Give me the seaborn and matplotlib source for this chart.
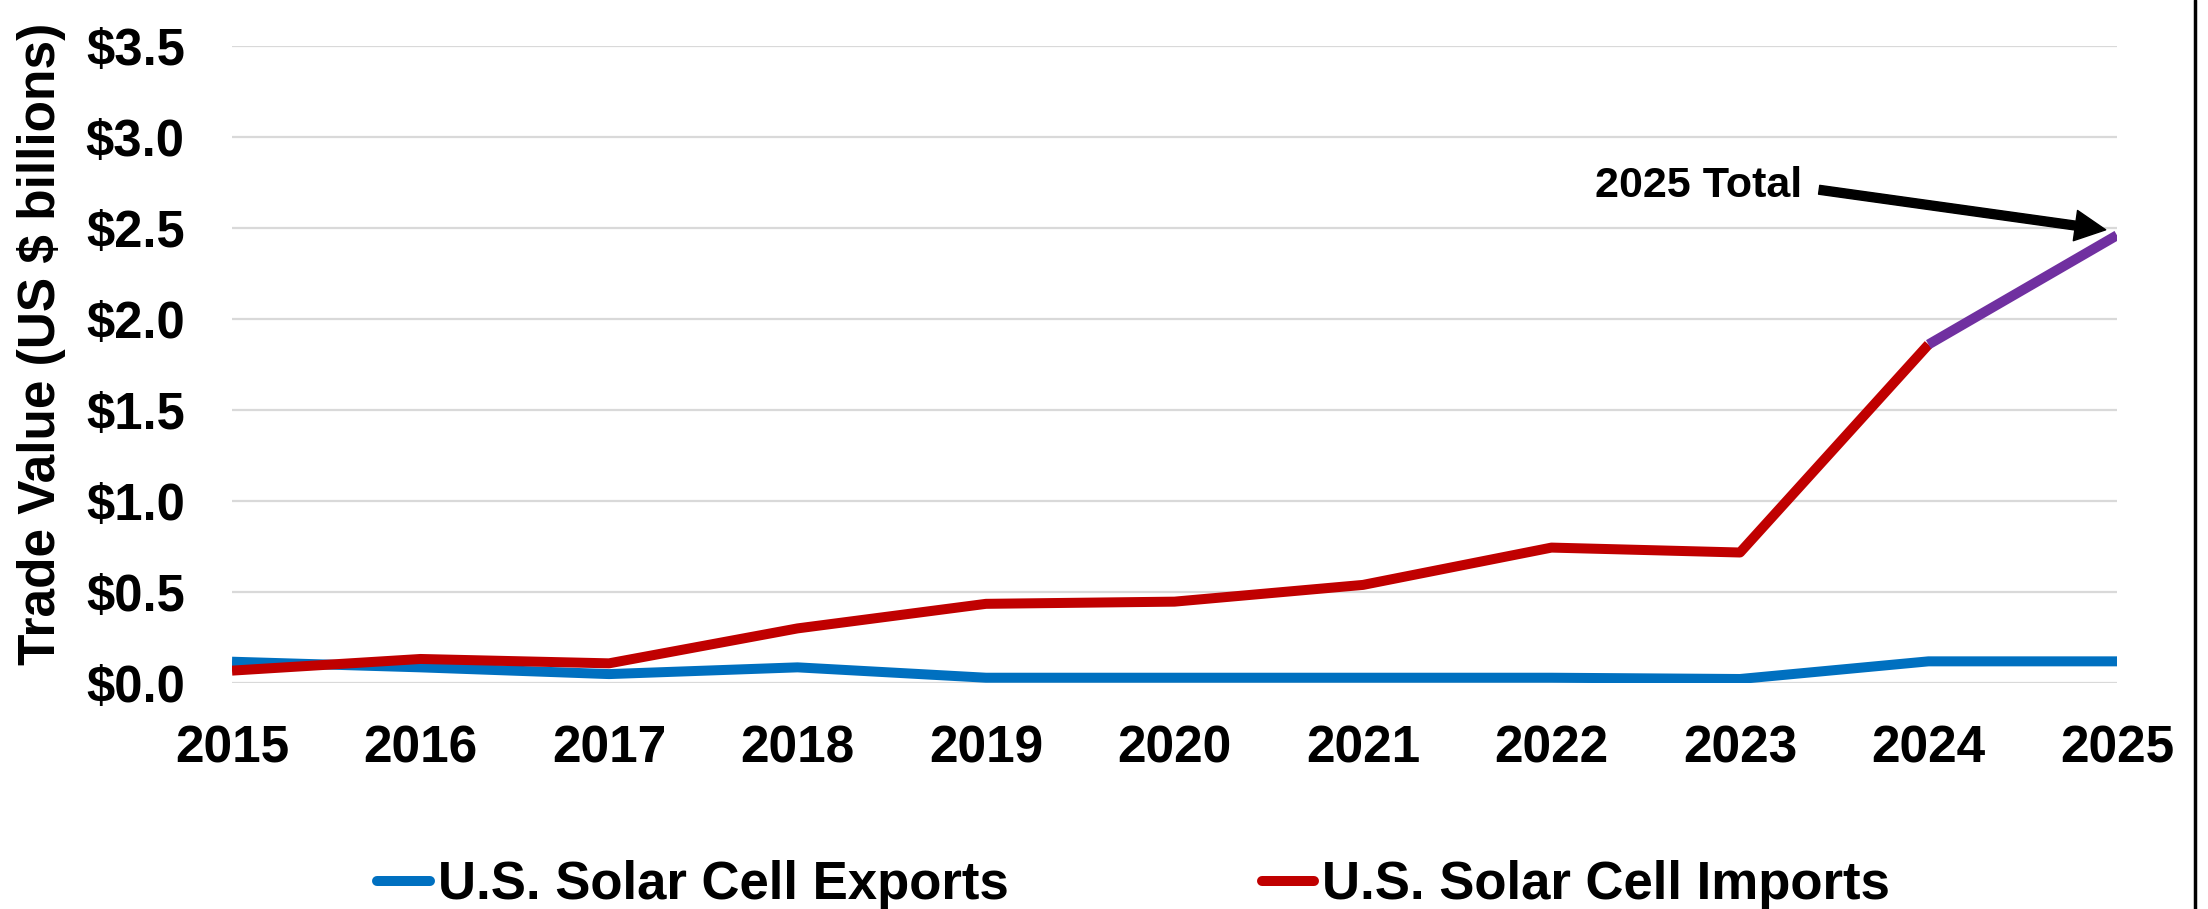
import numpy as np
import pandas as pd
import matplotlib
matplotlib.use("Agg")
import matplotlib.pyplot as plt
import seaborn as sns
from matplotlib.lines import Line2D

# ---- data ----
years = [2015, 2016, 2017, 2018, 2019, 2020, 2021, 2022, 2023, 2024, 2025]
exports = [0.117, 0.086, 0.049, 0.086, 0.029, 0.029, 0.029, 0.029, 0.022, 0.119, 0.119]
imports = [0.068, 0.132, 0.108, 0.300, 0.435, 0.447, 0.539, 0.744, 0.717, 1.860, 2.460]
series_names = ["U.S. Solar Cell Exports", "U.S. Solar Cell Imports"]
yticks = [0.0, 0.5, 1.0, 1.5, 2.0, 2.5, 3.0, 3.5]
ytick_labels = [f"${v:.1f}" for v in yticks]
annotation_text = "2025 Total"
ylabel_text = "Trade Value (US $ billions)"

colors = {"U.S. Solar Cell Exports": "#0070C0", "U.S. Solar Cell Imports": "#C00000"}
purple = "#7030A0"

sns.set_theme(style="white")
plt.rcParams["font.family"] = ["Liberation Sans", "DejaVu Sans"]
plt.rcParams["font.weight"] = "bold"
plt.rcParams["text.color"] = "black"
plt.rcParams["axes.labelcolor"] = "black"
plt.rcParams["xtick.color"] = "black"
plt.rcParams["ytick.color"] = "black"

# long-form frame: exports full, imports through 2024 (2025 segment highlighted in purple)
df = pd.concat([
    pd.DataFrame({"Year": years, "Value": exports, "Series": series_names[0]}),
    pd.DataFrame({"Year": years[:-1], "Value": imports[:-1], "Series": series_names[1]}),
])
df_last = pd.DataFrame({"Year": years[-2:], "Value": imports[-2:]})

fig = plt.figure(figsize=(22.08, 9.09), dpi=100)
ax = fig.add_axes([232 / 2208, 1 - 683 / 909, (2117 - 232) / 2208, (683 - 46) / 909])

lw = 7.2
sns.lineplot(data=df, x="Year", y="Value", hue="Series", palette=colors,
             linewidth=lw, ax=ax, legend=False, zorder=3)
sns.lineplot(data=df_last, x="Year", y="Value", color=purple, linewidth=lw,
             ax=ax, legend=False, zorder=4)
for ln in ax.lines:
    ln.set_solid_joinstyle("round")
    ln.set_solid_capstyle("butt")

ax.set_xlim(years[0], years[-1])
ax.set_ylim(0, 3.5)
ax.set_xticks(years)
ax.set_xticklabels([str(y) for y in years], fontsize=37, fontweight="bold", color="black")
ax.set_yticks(yticks)
ax.set_yticklabels(ytick_labels, fontsize=36.5, fontweight="bold", color="black")
ax.tick_params(axis="x", length=0, pad=30)
ax.tick_params(axis="y", length=0, pad=34)
ax.grid(axis="y", color="#D9D9D9", linewidth=1.6)
ax.grid(axis="x", visible=False)
for s in ax.spines.values():
    s.set_visible(False)
ax.set_xlabel("")
ax.set_ylabel(ylabel_text, fontsize=37, fontweight="bold", color="black")
ax.yaxis.set_label_coords(-0.088, 0.532)

# annotation
ax.text(2023.33, 2.73, annotation_text, ha="right", va="center",
        fontsize=31, fontweight="bold", color="black")
ax.annotate("", xy=(2024.94, 2.49), xytext=(2023.42, 2.71),
            arrowprops=dict(arrowstyle="simple,head_length=1.1,head_width=1.1,tail_width=0.32",
                            color="black", mutation_scale=20, shrinkA=0, shrinkB=0),
            zorder=5)

# legend
handles = [Line2D([0], [0], color=colors[n], lw=lw, solid_capstyle="round") for n in series_names]
leg = fig.legend(handles, series_names, loc="center", bbox_to_anchor=(0.5134, 0.026),
                 bbox_transform=fig.transFigure, ncol=2, frameon=False, fontsize=38,
                 handlelength=1.0, handletextpad=0.15, columnspacing=4.8, borderpad=0)
for t in leg.get_texts():
    t.set_fontweight("bold")
    t.set_color("black")

# right-edge border line
fig.add_artist(Line2D([2194.5 / 2208, 2194.5 / 2208], [0, 1], color="black", lw=2.5,
                      transform=fig.transFigure))

fig.savefig("out.png", dpi=100)
